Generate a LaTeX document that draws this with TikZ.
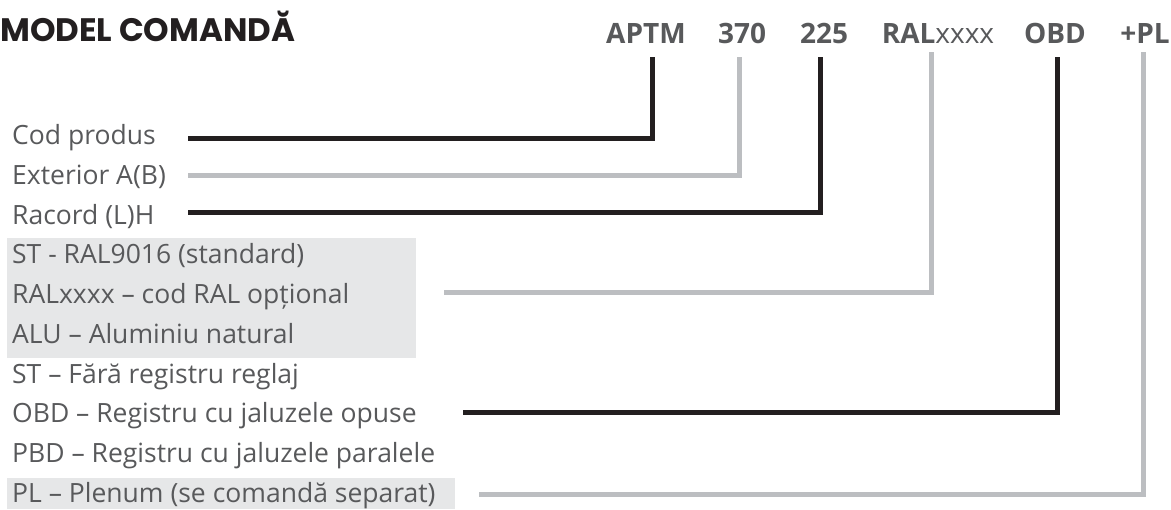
\documentclass[tikz,border=0pt]{standalone}
\usepackage{fontspec}
\setmainfont{Open Sans}
\newfontfamily\headfont{Poppins}
\usetikzlibrary{positioning}
\definecolor{textgray}{RGB}{88,89,91}
\definecolor{linedark}{RGB}{35,31,32}
\definecolor{linegray}{RGB}{188,190,193}
\definecolor{boxgray}{RGB}{230,231,232}

\tikzset{
  desc/.style={anchor=base west, inner sep=0pt, text=textgray, font=\fontsize{26.5}{26.5}\selectfont},
  code/.style={anchor=base, inner xsep=0pt, inner ysep=13pt, text=textgray, font=\fontsize{28}{28}\selectfont\bfseries},
  darkline/.style={draw=linedark, line width=5pt},
  grayline/.style={draw=linegray, line width=5pt}
}

\begin{document}
\begin{tikzpicture}[x=1pt, y=-1pt]
    \useasboundingbox (0,0) rectangle (1171,510);

    % shaded option groups
    \fill[boxgray] (7,238) rectangle (416,358);
    \fill[boxgray] (7,478) rectangle (455,509);

    % title
    \node[anchor=base west, inner sep=0pt, text=linedark, font=\headfont\bfseries\fontsize{32.5}{32.5}\selectfont] (title) at (0,42) {MODEL COMANDĂ};

    % order code
    \node[code] (kaptm) at (646,44) {APTM};
    \node[code] (k370) at (742,44) {370};
    \node[code] (k225) at (824,44) {225};
    \node[code] (kral) at (938,44) {RAL{\mdseries xxxx}};
    \node[code] (kobd) at (1055,44) {OBD};
    \node[code] (kpl) at (1145,44) {+PL};

    % descriptions
    \node[desc] (cod) at (12,145) {Cod produs};
    \node[desc] (ext) at (12,184.7) {Exterior A(B)};
    \node[desc] (rac) at (12,224.3) {Racord (L)H};
    \node[desc] (st) at (12,264) {ST - RAL9016 (standard)};
    \node[desc] (ral) at (12,303.8) {RALxxxx – cod RAL opțional};
    \node[desc] (alu) at (12,343.5) {ALU – Aluminiu natural};
    \node[desc] (fara) at (12,383.2) {ST – Fără registru reglaj};
    \node[desc] (obd) at (12,422.9) {OBD – Registru cu jaluzele opuse};
    \node[desc] (pbd) at (12,462.6) {PBD – Registru cu jaluzele paralele};
    \node[desc] (pl) at (12,502.3) {PL – Plenum (se comandă separat)};

    % line starts
    \coordinate (s1) at (188,139);
    \coordinate (s2) at (188,176);
    \coordinate (s3) at (188,213);
    \coordinate (s4) at (444,293);
    \coordinate (s5) at (463,413);
    \coordinate (s6) at (479,495);

    % connectors
    \draw[darkline] (s1) -| ([xshift=6pt]kaptm.south);
    \draw[grayline] (s2) -| ([xshift=-3pt]k370.south);
    \draw[darkline] (s3) -| ([xshift=-4pt]k225.south);
    \draw[grayline] (s4) -| ([xshift=-7pt, yshift=5pt]kral.south);
    \draw[darkline] (s5) -| ([xshift=2pt]kobd.south);
    \draw[grayline] (s6) -| ([xshift=-2pt, yshift=5pt]kpl.south);
\end{tikzpicture}
\end{document}
